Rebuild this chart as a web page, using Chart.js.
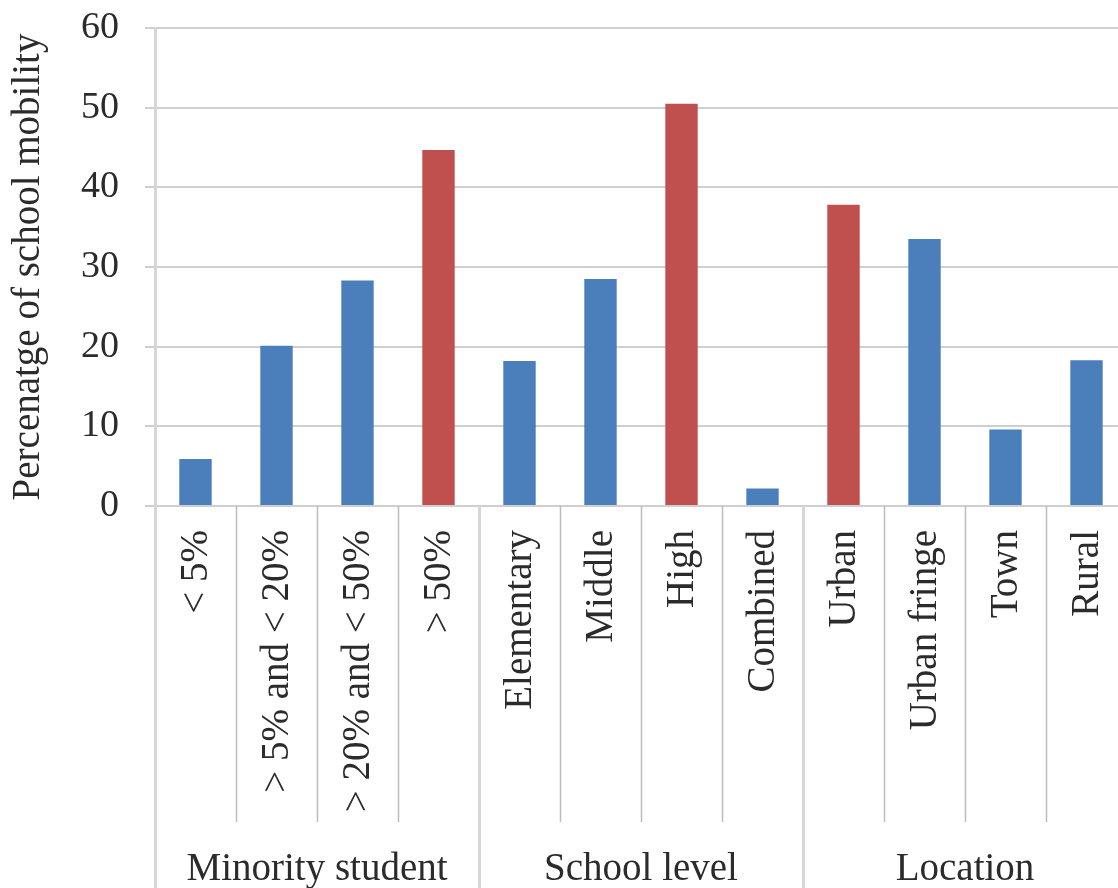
<!DOCTYPE html>
<html>
<head>
<meta charset="utf-8">
<title>School mobility</title>
<script src="https://cdn.jsdelivr.net/npm/chart.js@4.4.1/dist/chart.umd.min.js"></script>
<style>
  html, body { margin: 0; padding: 0; background: #ffffff; overflow: hidden; }
  #wrap { width: 1130px; height: 888px; }
</style>
</head>
<body>
<div id="wrap"><canvas id="chart" width="1130" height="888"></canvas></div>
<script>
// Categories along the x axis, in drawing order
const categories = [
  '< 5%', '> 5% and < 20%', '> 20% and < 50%', '> 50%',
  'Elementary', 'Middle', 'High', 'Combined',
  'Urban', 'Urban fringe', 'Town', 'Rural'
];

// Percentage of school mobility for each category
const mobility = [5.9, 20.1, 28.3, 44.7, 18.2, 28.5, 50.5, 2.2, 37.8, 33.5, 9.6, 18.3];

// Outer grouping of the categories
const groupNames = ['Minority student', 'School level', 'Location'];
const groupSizes = [4, 4, 4];

// Value axis
const yMin = 0;
const yMax = 60;
const yStep = 10;
const yTitle = 'Percenatge of school mobility';

const FONT = "'Liberation Serif', 'Times New Roman', serif";
const TEXT = '#2b2b2b';
const BLUE = '#4a7fbc';
const RED = '#c0504d';

// Index of the first category in each group
const groupStarts = groupSizes.map((_, g) => groupSizes.slice(0, g).reduce((a, b) => a + b, 0));

// The tallest bar of each group is drawn in red
function isGroupMax(i) {
  let g = 0;
  while (g + 1 < groupStarts.length && i >= groupStarts[g + 1]) g++;
  const slice = mobility.slice(groupStarts[g], groupStarts[g] + groupSizes[g]);
  return mobility[i] === Math.max(...slice);
}

// Two-level category axis: rotated category labels, separators and group names
const groupedAxis = {
  id: 'groupedAxis',
  afterDraw(chart) {
    const { ctx, chartArea, scales: { x } } = chart;
    const n = categories.length;
    const bottom = chartArea.bottom;
    const H = chart.height;
    const edge = i => {
      if (i === 0) return chartArea.left;
      if (i === n) return x.getPixelForValue(n - 1) + (x.getPixelForValue(n - 1) - x.getPixelForValue(n - 2)) / 2;
      return (x.getPixelForValue(i - 1) + x.getPixelForValue(i)) / 2;
    };
    const groupEdges = new Set([0, ...groupStarts.slice(1), n]);

    ctx.save();
    // separators between categories
    for (let i = 0; i <= n; i++) {
      const px = Math.round(edge(i)) + 0.5;
      ctx.beginPath();
      if (groupEdges.has(i)) {
        ctx.strokeStyle = '#d6d6d6';
        ctx.lineWidth = 3;
        ctx.moveTo(px, bottom);
        ctx.lineTo(px, H);
      } else {
        ctx.strokeStyle = '#bdbdbd';
        ctx.lineWidth = 1.5;
        ctx.moveTo(px, bottom);
        ctx.lineTo(px, bottom + 316);
      }
      ctx.stroke();
    }

    // rotated category labels
    ctx.fillStyle = TEXT;
    ctx.font = '39px ' + FONT;
    ctx.textAlign = 'right';
    ctx.textBaseline = 'alphabetic';
    categories.forEach((label, i) => {
      const cx = x.getPixelForValue(i);
      ctx.save();
      ctx.translate(cx + 11, bottom + 24);
      ctx.rotate(-Math.PI / 2);
      ctx.fillText(label, 0, 0);
      ctx.restore();
    });

    // group names
    ctx.textAlign = 'center';
    groupNames.forEach((name, g) => {
      const l = edge(groupStarts[g]);
      const r = edge(groupStarts[g] + groupSizes[g]);
      ctx.fillText(name, (l + r) / 2, H - 8);
    });
    ctx.restore();
  }
};

new Chart(document.getElementById('chart'), {
  type: 'bar',
  data: {
    labels: categories,
    datasets: [{
      data: mobility,
      backgroundColor: ctx => isGroupMax(ctx.dataIndex) ? RED : BLUE,
      borderWidth: 0,
      barPercentage: 0.4,
      categoryPercentage: 1.0
    }]
  },
  options: {
    responsive: false,
    animation: false,
    events: [],
    layout: { padding: { top: 28, right: 3, left: 0, bottom: 0 } },
    plugins: { legend: { display: false }, tooltip: { enabled: false } },
    scales: {
      x: {
        ticks: { display: false },
        grid: { display: false },
        border: { display: false },
        afterFit(scale) { scale.height = 382; }
      },
      y: {
        min: yMin,
        max: yMax,
        ticks: {
          stepSize: yStep,
          padding: 26,
          color: TEXT,
          font: { family: FONT, size: 38 }
        },
        grid: { color: '#cfcfcf', lineWidth: 2, tickLength: 10, drawTicks: true },
        border: { display: true, color: '#d6d6d6', width: 3 },
        title: {
          display: true,
          text: yTitle,
          color: TEXT,
          font: { family: FONT, size: 39 },
          padding: { top: 5, bottom: 0 }
        },
        afterFit(scale) {
          scale.width = 155;
          scale.paddingTop = 0;
          scale.paddingBottom = 0;
        }
      }
    }
  },
  plugins: [groupedAxis]
});
</script>
</body>
</html>
